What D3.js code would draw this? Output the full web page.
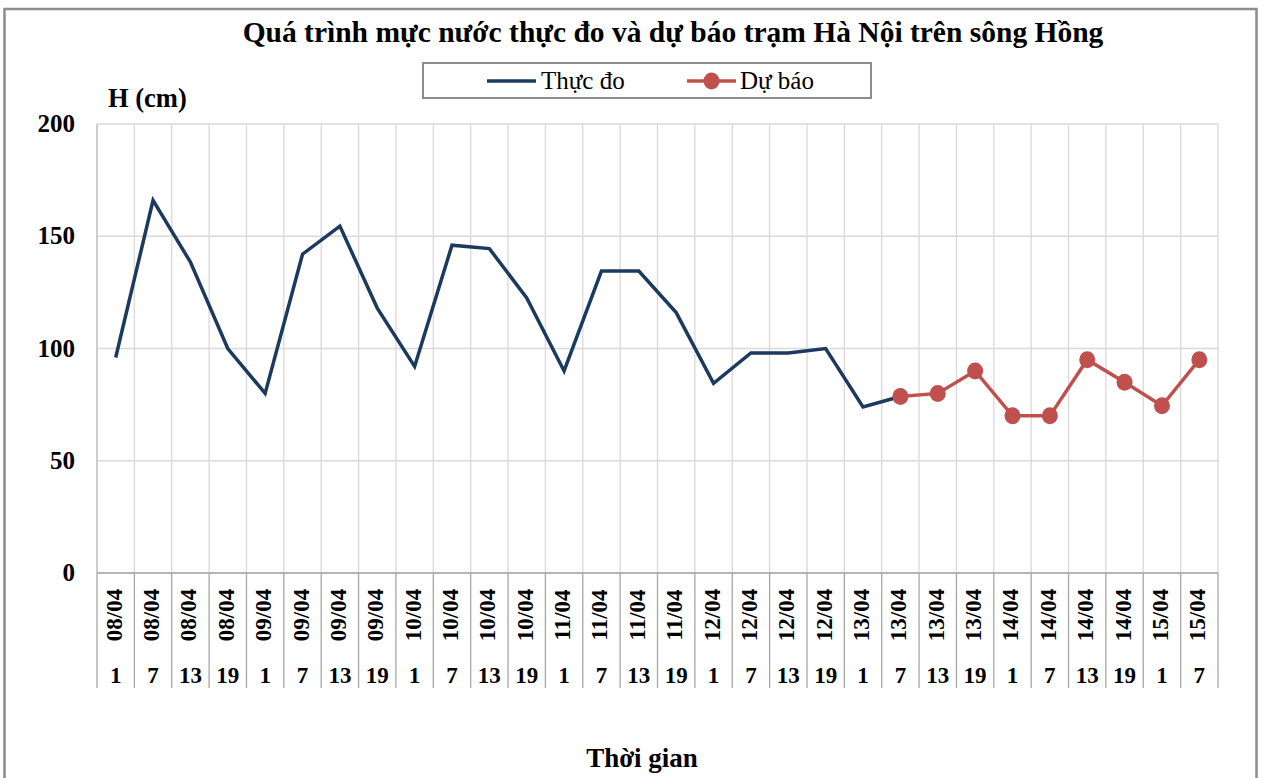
<!DOCTYPE html>
<html>
<head>
<meta charset="utf-8">
<script src="https://cdn.jsdelivr.net/npm/d3@7"></script>
<style>
  html, body { margin: 0; padding: 0; background: #fff; }
</style>
</head>
<body>
<svg id="chart" width="1264" height="778"></svg>
<script>
const dates = ["08/04","08/04","08/04","08/04","09/04","09/04","09/04","09/04","10/04","10/04","10/04","10/04","11/04","11/04","11/04","11/04","12/04","12/04","12/04","12/04","13/04","13/04","13/04","13/04","14/04","14/04","14/04","14/04","15/04","15/04"];
const hours = ["1","7","13","19","1","7","13","19","1","7","13","19","1","7","13","19","1","7","13","19","1","7","13","19","1","7","13","19","1","7"];
const observed = [96,166,138.5,100,80,142,154.5,118,92,146,144.5,122.5,90,134.5,134.5,116,84.5,98,98,100,74,78.6,null,null,null,null,null,null,null,null];
const forecast = [null,null,null,null,null,null,null,null,null,null,null,null,null,null,null,null,null,null,null,null,null,78.6,80,90,70,70,95,85,74.5,95];
const yTicks = [0,50,100,150,200];

const FONT = "'Liberation Serif', 'Times New Roman', serif";
const svg = d3.select("#chart");
const plot = {left: 97, right: 1218, top: 124, bottom: 573};

svg.append("rect").attr("x", 4.5).attr("y", 9).attr("width", 1252).attr("height", 800)
  .attr("fill", "#fff").attr("stroke", "#8c8c8c").attr("stroke-width", 2.5);

const idx = d3.range(dates.length);
const x = d3.scaleBand().domain(idx).range([plot.left, plot.right]).padding(0);
const y = d3.scaleLinear().domain([0, 200]).range([plot.bottom, plot.top]);
const cx = i => x(i) + x.bandwidth() / 2;

svg.append("g").selectAll("line").data(yTicks).join("line")
  .attr("x1", plot.left).attr("x2", plot.right)
  .attr("y1", d => y(d)).attr("y2", d => y(d))
  .attr("stroke", "#d9d9d9").attr("stroke-width", 1.3);

const bounds = d3.range(dates.length + 1).map(i => i < dates.length ? x(i) : plot.right);
svg.append("g").selectAll("line").data(bounds).join("line")
  .attr("x1", d => d).attr("x2", d => d)
  .attr("y1", plot.top).attr("y2", plot.bottom)
  .attr("stroke", "#d9d9d9").attr("stroke-width", 1.3);

svg.append("line").attr("x1", plot.left).attr("x2", plot.left).attr("y1", plot.top).attr("y2", plot.bottom)
  .attr("stroke", "#bfbfbf").attr("stroke-width", 1.3);
svg.append("line").attr("x1", plot.left).attr("x2", plot.right).attr("y1", plot.bottom).attr("y2", plot.bottom)
  .attr("stroke", "#a6a6a6").attr("stroke-width", 1.3);

svg.append("g").selectAll("line").data(bounds).join("line")
  .attr("x1", d => d).attr("x2", d => d)
  .attr("y1", plot.bottom).attr("y2", 688)
  .attr("stroke", "#a6a6a6").attr("stroke-width", 1.3);

svg.append("g").selectAll("text").data(yTicks).join("text")
  .attr("x", 75).attr("y", d => y(d) + 8)
  .attr("text-anchor", "end").attr("font-weight", "bold").attr("font-size", 25)
  .style("font-family", FONT)
  .attr("fill", "#000").text(d => d);

svg.append("g").selectAll("text").data(idx).join("text")
  .attr("transform", i => `translate(${cx(i) + 6},615) rotate(-90)`)
  .attr("text-anchor", "middle").attr("font-weight", "bold").attr("font-size", 23)
  .style("font-family", FONT)
  .attr("fill", "#000").text(i => dates[i]);

svg.append("g").selectAll("text").data(idx).join("text")
  .attr("x", i => cx(i)).attr("y", 683)
  .attr("text-anchor", "middle").attr("font-weight", "bold").attr("font-size", 23)
  .style("font-family", FONT)
  .attr("fill", "#000").text(i => hours[i]);

const line = d3.line().defined(d => d.v != null).x(d => cx(d.i)).y(d => y(d.v));
const obsData = observed.map((v, i) => ({i, v}));
const fcData = forecast.map((v, i) => ({i, v}));

svg.append("path").datum(obsData).attr("d", line)
  .attr("fill", "none").attr("stroke", "#1b3a5e").attr("stroke-width", 3.5)
  .attr("stroke-linejoin", "miter");

svg.append("path").datum(fcData).attr("d", line)
  .attr("fill", "none").attr("stroke", "#c0504d").attr("stroke-width", 3.5);

svg.append("g").selectAll("ellipse").data(fcData.filter(d => d.v != null)).join("ellipse")
  .attr("cx", d => cx(d.i)).attr("cy", d => y(d.v))
  .attr("rx", 8).attr("ry", 8.5)
  .attr("fill", "#c0504d");

svg.append("text").attr("x", 673).attr("y", 42)
  .attr("text-anchor", "middle").attr("font-weight", "bold").attr("font-size", 29.5)
  .style("font-family", FONT)
  .attr("fill", "#000").text("Quá trình mực nước thực đo và dự báo trạm Hà Nội trên sông Hồng");

svg.append("text").attr("x", 108).attr("y", 107)
  .attr("font-weight", "bold").attr("font-size", 26.5)
  .style("font-family", FONT)
  .attr("fill", "#000").text("H (cm)");

svg.append("text").attr("x", 642).attr("y", 767)
  .attr("text-anchor", "middle").attr("font-weight", "bold").attr("font-size", 27)
  .style("font-family", FONT)
  .attr("fill", "#000").text("Thời gian");

const lg = svg.append("g");
lg.append("rect").attr("x", 423).attr("y", 63).attr("width", 448).attr("height", 35)
  .attr("fill", "#fff").attr("stroke", "#8c8c8c").attr("stroke-width", 2);
lg.append("line").attr("x1", 487).attr("x2", 536).attr("y1", 81).attr("y2", 81)
  .attr("stroke", "#1b3a5e").attr("stroke-width", 3.5);
lg.append("text").attr("x", 541).attr("y", 89).attr("font-size", 25).style("font-family", FONT)
  .attr("fill", "#000").text("Thực đo");
lg.append("line").attr("x1", 687).attr("x2", 736).attr("y1", 81).attr("y2", 81)
  .attr("stroke", "#c0504d").attr("stroke-width", 3.5);
lg.append("ellipse").attr("cx", 711.5).attr("cy", 81).attr("rx", 8).attr("ry", 8.5).attr("fill", "#c0504d");
lg.append("text").attr("x", 740).attr("y", 89).attr("font-size", 25).style("font-family", FONT)
  .attr("fill", "#000").text("Dự báo");
</script>
</body>
</html>
